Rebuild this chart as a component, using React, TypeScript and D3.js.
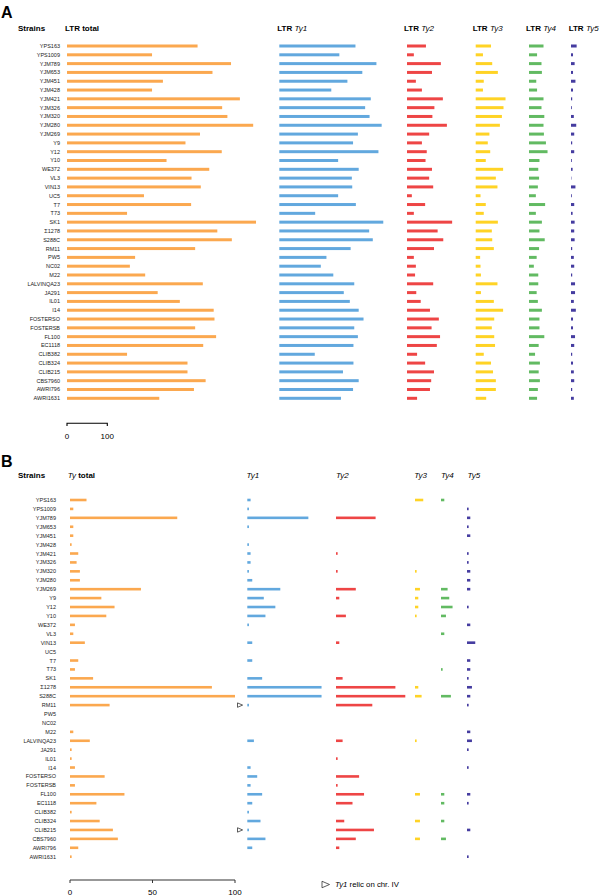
import React from "react";
import * as d3 from "d3";

const strains = ["YPS163","YPS1009","YJM789","YJM653","YJM451","YJM428","YJM421","YJM326","YJM320","YJM280","YJM269","Y9","Y12","Y10","WE372","VL3","VIN13","UC5","T7","T73","SK1","Σ1278","S288C","RM11","PW5","NC02","M22","LALVINQA23","JA291","IL01","I14","FOSTERSO","FOSTERSB","FL100","EC1118","CLIB382","CLIB324","CLIB215","CBS7960","AWRI796","AWRI1631"];

// Panel A: LTR counts
const ltrTotal = [324,211,407,361,238,211,429,385,398,462,330,294,384,247,353,309,332,191,308,149,469,373,409,318,169,156,194,337,225,280,364,366,318,370,338,149,299,299,344,315,229];
const ltrTy1 = [189,149,241,206,169,129,227,213,224,254,195,183,246,146,197,180,181,146,190,89,258,223,232,177,117,103,134,186,160,175,197,209,186,195,184,88,184,158,197,183,153];
const ltrTy2 = [47,17,84,62,22,37,89,68,63,99,55,37,49,46,62,55,65,12,45,17,112,76,90,67,17,22,20,65,23,34,57,79,61,82,74,25,45,67,60,57,25];
const ltrTy3 = [38,18,41,55,20,18,74,69,65,60,34,30,36,25,68,50,54,12,25,20,55,40,41,45,11,12,13,54,13,45,68,46,40,46,48,20,38,43,50,50,26];
const ltrTy4 = [36,20,31,32,18,20,36,31,38,36,37,42,46,26,23,25,22,17,40,17,32,26,39,25,19,12,23,23,19,22,32,26,26,38,24,15,27,24,27,22,20];
const ltrTy5 = [14,5,9,5,11,5,3,2,7,13,8,3,8,2,4,1,11,2,8,4,9,8,9,3,7,8,3,10,10,7,12,5,5,10,8,3,5,7,8,3,7];

// Panel B: full-length Ty counts
const tyTotal = [10,2,65,2,2,1,5,4,6,6,43,19,27,22,3,2,9,0,5,3,14,86,100,24,0,0,2,12,1,1,3,21,3,33,16,1,18,26,29,5,1];
const ty1 = [2,1,37,1,0,1,2,2,1,3,20,10,17,11,1,0,3,0,3,0,9,45,45,1,0,0,0,4,0,0,2,6,2,9,3,1,8,1,11,3,0];
const ty2 = [0,0,24,0,0,0,1,0,1,0,12,2,0,6,0,0,2,0,0,0,4,36,42,22,0,0,0,4,0,1,0,14,1,17,10,0,5,23,12,2,0];
const ty3 = [5,0,0,0,0,0,0,0,1,0,3,2,2,1,0,0,0,0,0,0,0,2,4,0,0,0,0,1,0,0,0,0,0,3,0,0,3,0,3,0,0];
const ty4 = [2,0,0,0,0,0,0,0,0,0,4,5,7,3,0,2,0,0,0,1,0,0,6,0,0,0,0,0,0,0,0,0,0,2,2,0,2,0,3,0,0];
const ty5 = [0,1,2,1,2,0,1,1,2,2,2,0,1,0,2,0,5,0,2,2,1,3,2,1,0,0,2,3,1,0,1,0,0,2,1,0,0,2,0,0,1];
const ty1Relic = ["RM11","CLIB215"];

const scaleTicksA = [0, 100];
const scaleTicksB = [0, 50, 100];

const C = {
  orange: "#FBA84F",
  blue: "#62A8DE",
  red: "#EE4545",
  yellow: "#FFD325",
  green: "#62BA62",
  purple: "#453CA0",
};

const FONT = "'Liberation Sans', Arial, Helvetica, sans-serif";
const HFS = 8;
const LFS = 5.5;

const xA = d3.scaleLinear().domain([0, 100]).range([0, 40.3]);
const xB = d3.scaleLinear().domain([0, 100]).range([0, 165]);
const yA = d3.scalePoint<string>().domain(strains).range([46, 398.3]);
const yB = d3.scalePoint<string>().domain(strains).range([500, 856.7]);

type Col = { key: string; x0: number; vals: number[]; color: string; head: React.ReactNode; hx: number };

const colsA: Col[] = [
  { key: "tot", x0: 67, vals: ltrTotal, color: C.orange, hx: 65, head: <tspan fontWeight="bold">LTR total</tspan> },
  { key: "t1", x0: 279.3, vals: ltrTy1, color: C.blue, hx: 277.3, head: <><tspan fontWeight="bold">LTR </tspan><tspan fontStyle="italic">Ty1</tspan></> },
  { key: "t2", x0: 407, vals: ltrTy2, color: C.red, hx: 404, head: <><tspan fontWeight="bold">LTR </tspan><tspan fontStyle="italic">Ty2</tspan></> },
  { key: "t3", x0: 475.7, vals: ltrTy3, color: C.yellow, hx: 472.7, head: <><tspan fontWeight="bold">LTR </tspan><tspan fontStyle="italic">Ty3</tspan></> },
  { key: "t4", x0: 529, vals: ltrTy4, color: C.green, hx: 526, head: <><tspan fontWeight="bold">LTR </tspan><tspan fontStyle="italic">Ty4</tspan></> },
  { key: "t5", x0: 571, vals: ltrTy5, color: C.purple, hx: 568.7, head: <><tspan fontWeight="bold">LTR </tspan><tspan fontStyle="italic">Ty5</tspan></> },
];

const colsB: Col[] = [
  { key: "tot", x0: 70, vals: tyTotal, color: C.orange, hx: 67.7, head: <><tspan fontStyle="italic">Ty</tspan><tspan fontWeight="bold"> total</tspan></> },
  { key: "t1", x0: 247.3, vals: ty1, color: C.blue, hx: 246.5, head: <tspan fontStyle="italic">Ty1</tspan> },
  { key: "t2", x0: 336, vals: ty2, color: C.red, hx: 336, head: <tspan fontStyle="italic">Ty2</tspan> },
  { key: "t3", x0: 415, vals: ty3, color: C.yellow, hx: 414.3, head: <tspan fontStyle="italic">Ty3</tspan> },
  { key: "t4", x0: 441, vals: ty4, color: C.green, hx: 441, head: <tspan fontStyle="italic">Ty4</tspan> },
  { key: "t5", x0: 467, vals: ty5, color: C.purple, hx: 467.5, head: <tspan fontStyle="italic">Ty5</tspan> },
];

function Triangle({ x, y, s = 1 }: { x: number; y: number; s?: number }) {
  const w = 6 * s, h = 2.6 * s;
  return (
    <path
      d={`M${x},${y - h}L${x + w},${y}L${x},${y + h}Z`}
      fill="#fff"
      stroke="#333"
      strokeWidth={0.8}
    />
  );
}

export default function App() {
  const barHA = 3;
  const barHB = 2.6;
  return (
    <svg
      width={600}
      height={896}
      viewBox="0 0 600 896"
      style={{ position: "absolute", left: 0, top: 0, background: "#fff" }}
      fontFamily={FONT}
    >
      <rect width={600} height={896} fill="#fff" />
      {/* Panel A */}
      <text x={1} y={17.5} fontSize={16} fontWeight="bold" fill="#000">A</text>
      <text x={18} y={31.3} fontSize={HFS} fontWeight="bold" fill="#000">Strains</text>
      {colsA.map((c) => (
        <text key={"ha" + c.key} x={c.hx} y={31.3} fontSize={HFS} fill="#000">{c.head}</text>
      ))}
      {strains.map((s) => (
        <text key={"la" + s} x={60} y={(yA(s) as number) + 2} fontSize={LFS} textAnchor="end" fill="#222">{s}</text>
      ))}
      {colsA.map((c) =>
        c.vals.map((v, i) =>
          v > 0 ? (
            <rect
              key={"ba" + c.key + i}
              x={c.x0}
              y={(yA(strains[i]) as number) - barHA / 2}
              width={xA(v)}
              height={barHA}
              fill={c.color}
            />
          ) : null
        )
      )}
      {/* scale bar A */}
      <g>
        <path
          d={`M${67 + xA(scaleTicksA[0])},426V423.2H${67 + xA(scaleTicksA[1])}V426`}
          fill="none"
          stroke="#000"
          strokeWidth={1.1}
        />
        {scaleTicksA.map((t) => (
          <text key={"sa" + t} x={67 + xA(t)} y={439} fontSize={8} textAnchor="middle" fill="#000">{t}</text>
        ))}
      </g>

      {/* Panel B */}
      <text x={1} y={467} fontSize={16} fontWeight="bold" fill="#000">B</text>
      <text x={18} y={477.8} fontSize={HFS} fontWeight="bold" fill="#000">Strains</text>
      {colsB.map((c) => (
        <text key={"hb" + c.key} x={c.hx} y={477.8} fontSize={HFS} fill="#000">{c.head}</text>
      ))}
      {strains.map((s) => (
        <text key={"lb" + s} x={56} y={(yB(s) as number) + 2} fontSize={LFS} textAnchor="end" fill="#222">{s}</text>
      ))}
      {colsB.map((c) =>
        c.vals.map((v, i) =>
          v > 0 ? (
            <rect
              key={"bb" + c.key + i}
              x={c.x0}
              y={(yB(strains[i]) as number) - barHB / 2}
              width={xB(v)}
              height={barHB}
              fill={c.color}
            />
          ) : null
        )
      )}
      {ty1Relic.map((s) => (
        <Triangle key={"rel" + s} x={237.5} y={yB(s) as number} s={0.85} />
      ))}
      {/* axis B */}
      <g>
        <line x1={70 + xB(0)} x2={70 + xB(100)} y1={880} y2={880} stroke="#333" strokeWidth={1.1} />
        {scaleTicksB.map((t) => (
          <g key={"tb" + t}>
            <line x1={70 + xB(t)} x2={70 + xB(t)} y1={880} y2={883} stroke="#333" strokeWidth={1} />
            <text x={70 + xB(t)} y={894.5} fontSize={8} textAnchor="middle" fill="#000">{t}</text>
          </g>
        ))}
      </g>
      {/* legend */}
      <Triangle x={322} y={884.5} s={1.25} />
      <text x={335} y={887} fontSize={7.8} fill="#000">
        <tspan fontStyle="italic">Ty1</tspan>
        <tspan> relic on chr. IV</tspan>
      </text>
    </svg>
  );
}
